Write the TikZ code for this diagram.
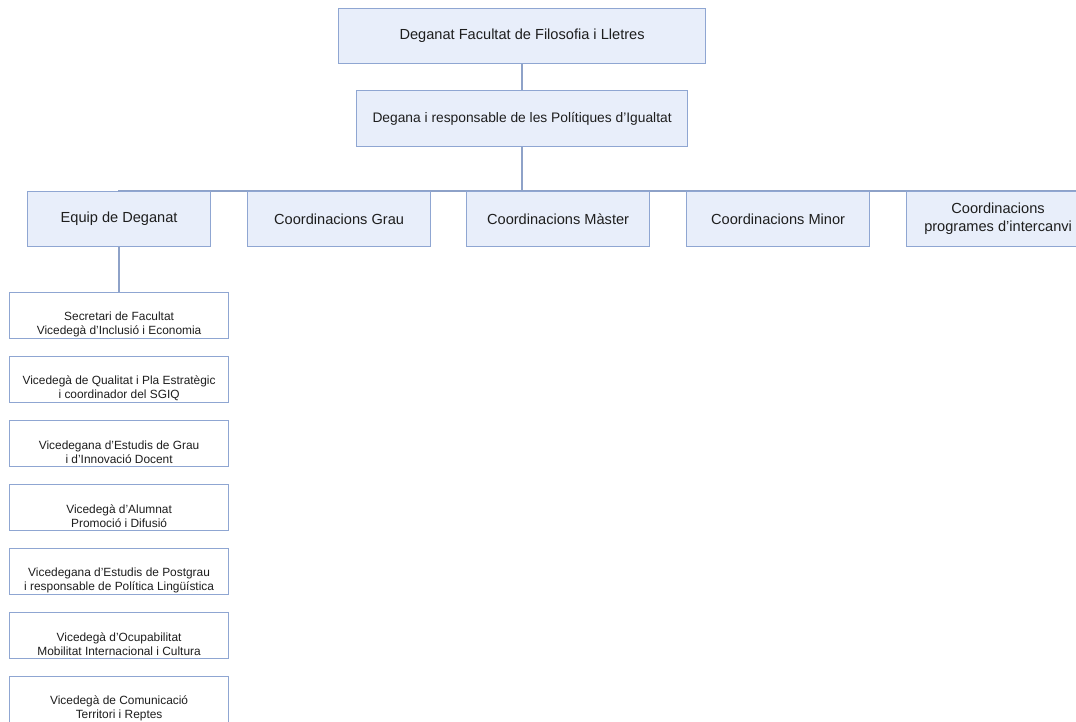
\documentclass[tikz,border=0pt]{standalone}
\usepackage{fontspec}
\setmainfont{Liberation Sans}
\definecolor{boxfill}{HTML}{E8EEFA}
\definecolor{boxline}{HTML}{8FA6D2}
\definecolor{conn}{HTML}{8EA2C8}
\definecolor{txt}{HTML}{1E1E1E}
\tikzset{
  bigbox/.style={draw=boxline, fill=boxfill, line width=1.2pt, rectangle, anchor=north west,
    inner sep=0pt, align=center, text=txt, font=\fontsize{14.6}{18}\selectfont},
  subbox/.style={draw=boxline, fill=white, line width=1.2pt, rectangle, anchor=north west,
    inner sep=0pt, minimum width=219pt, minimum height=46pt},
  subtext/.style={inner sep=0pt, align=center, text=txt, font=\fontsize{11.9}{14}\selectfont},
  connector/.style={draw=conn, line width=1.3pt}
}
\begin{document}
\begin{tikzpicture}[x=1pt,y=-1pt]
\useasboundingbox (0,0) rectangle (1076,721);
\clip (0,0) rectangle (1076,721);
\coordinate (busL) at (118,191);
\coordinate (busR) at (1080,191);
% top
\node[bigbox, minimum width=367pt, minimum height=55pt] (top) at (338,8) {Deganat Facultat de Filosofia i Lletres};
\node[bigbox, minimum width=331pt, minimum height=56pt, font=\fontsize{13.8}{17}\selectfont] (dean) at (356,90) {Degana i responsable de les Polítiques d’Igualtat};
\draw[connector] (top.south) -- (top.south |- dean.north);
\draw[connector] (dean.south) -- (dean.south |- busL);
\draw[connector] (busL) -- (busR);
% level 2
\node[bigbox, minimum width=183pt, minimum height=55pt] (equip) at (27,191) {Equip de Deganat};
\node[bigbox, minimum width=183pt, minimum height=55pt] (grau) at (247,191) {Coordinacions Grau};
\node[bigbox, minimum width=183pt, minimum height=55pt] (master) at (466,191) {Coordinacions Màster};
\node[bigbox, minimum width=183pt, minimum height=55pt] (minor) at (686,191) {Coordinacions Minor};
\node[bigbox, minimum width=183pt, minimum height=55pt] (inter) at (906,191) {Coordinacions\\programes d’intercanvi};
\draw[connector] (busL) -- (equip.north);
% sub boxes
\node[subbox] (s1) at (9,292) {};
\node[subbox] (s2) at (9,356) {};
\node[subbox] (s3) at (9,420) {};
\node[subbox] (s4) at (9,484) {};
\node[subbox] (s5) at (9,548) {};
\node[subbox] (s6) at (9,612) {};
\node[subbox] (s7) at (9,676) {};
\draw[connector] (equip.south) -- (s1.north -| equip.south);
\node[subtext] (t1) at ([yshift=-9pt]s1.center) {Secretari de Facultat\\Vicedegà d’Inclusió i Economia};
\node[subtext] (t2) at ([yshift=-9pt]s2.center) {Vicedegà de Qualitat i Pla Estratègic\\i coordinador del SGIQ};
\node[subtext] (t3) at ([yshift=-9pt]s3.center) {Vicedegana d’Estudis de Grau\\i d’Innovació Docent};
\node[subtext] (t4) at ([yshift=-9pt]s4.center) {Vicedegà d’Alumnat\\Promoció i Difusió};
\node[subtext] (t5) at ([yshift=-9pt]s5.center) {Vicedegana d’Estudis de Postgrau\\i responsable de Política Lingüística};
\node[subtext] (t6) at ([yshift=-9pt]s6.center) {Vicedegà d’Ocupabilitat\\Mobilitat Internacional i Cultura};
\node[subtext] (t7) at ([yshift=-9pt]s7.center) {Vicedegà de Comunicació\\Territori i Reptes};
\end{tikzpicture}
\end{document}
